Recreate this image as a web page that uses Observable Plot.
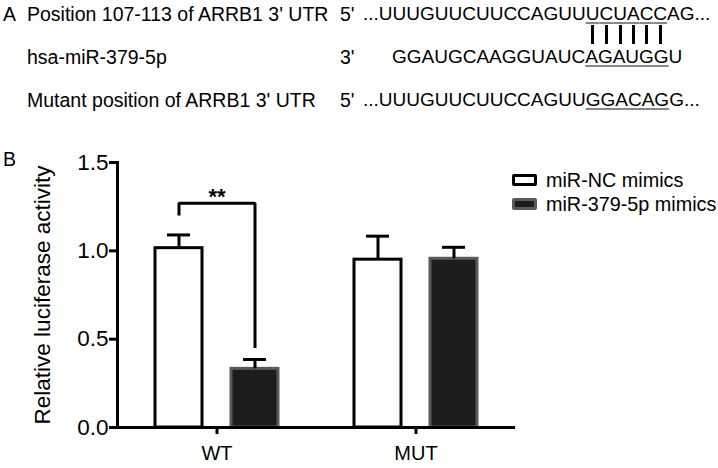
<!DOCTYPE html>
<html><head><meta charset="utf-8">
<script src="https://cdn.jsdelivr.net/npm/d3@7"></script>
<script src="https://cdn.jsdelivr.net/npm/@observablehq/plot@0.6"></script>
<style>
body{margin:0;background:#fff;}
#fig{position:relative;width:718px;height:468px;font-family:"Liberation Sans",Arial,sans-serif;color:#000;overflow:hidden;background:#fff}
.t{position:absolute;white-space:nowrap;font-size:19.5px;line-height:22px}
.seq{font-size:19px}
.u{text-decoration:underline;text-decoration-color:#888;text-decoration-thickness:2px;text-underline-offset:2px}
.p{position:relative}
.p::after{content:"";position:absolute;left:50%;margin-left:-1.5px;top:22px;width:3px;height:19px;background:#000}
#plot{position:absolute;left:0;top:140px}
.leg{position:absolute;left:512px;font-size:19.8px;line-height:20px;white-space:nowrap}
.sw{display:inline-block;width:19px;height:6px;border:3px solid #000;border-radius:2px;vertical-align:middle;margin-right:9px;position:relative;top:-2px}
</style></head>
<body>
<div id="fig"></div>
<script>
// ---- Panel A text ----
const panelLetters = ["A", "B"];
const panelALabels = ["Position 107-113 of ARRB1 3' UTR", "hsa-miR-379-5p", "Mutant position of ARRB1 3' UTR"];
const strandEnds = ["5'", "3'", "5'"];
const seqBefore = ["...UUUGUUCUUCCAGUU", "GGAUGCAAGGUAUC", "...UUUGUUCUUCCAGUU"];
const seqSite = ["UCUACC", "AGAUGG", "GGACAG"];
const seqAfter = ["AG...", "U", "G..."];

// ---- Panel B data ----
const groups = ["WT", "MUT"];
const series = ["miR-NC mimics", "miR-379-5p mimics"];
const ncValues = [1.015, 0.95];
const ncErrors = [0.075, 0.133];
const mimicValues = [0.332, 0.955];
const mimicErrors = [0.053, 0.065];
const yTicks = [0, 0.5, 1.0, 1.5];
const yLabel = "Relative luciferase activity";
const bracketLevels = [1.2, 1.27, 1.27, 0.45];
const significance = "**";

const fig = document.getElementById("fig");
function addDiv(cls, left, top, html) {
  const d = document.createElement("div");
  d.className = cls;
  d.style.left = left + "px";
  d.style.top = top + "px";
  d.innerHTML = html;
  fig.appendChild(d);
  return d;
}
const rowTops = [3, 46, 89];
addDiv("t", 3, rowTops[0], panelLetters[0]);
addDiv("t", 3, 148, panelLetters[1]);
panelALabels.forEach((lab, i) => {
  addDiv("t", 27, rowTops[i], lab);
  addDiv("t", 340, rowTops[i], strandEnds[i]);
  const site = i === 0
    ? seqSite[i].split("").map(c => `<span class="p">${c}</span>`).join("")
    : seqSite[i];
  addDiv("t seq", i === 1 ? 392 : 363, rowTops[i],
    `${seqBefore[i]}<span class="u">${site}</span>${seqAfter[i]}`);
});

// ---- Plot ----
const data = groups.flatMap((g, i) => [
  {group: g, series: series[0], value: ncValues[i], err: ncErrors[i]},
  {group: g, series: series[1], value: mimicValues[i], err: mimicErrors[i]}
]);
const bracket = bracketLevels.map((v, i) => ({group: groups[0], series: i < 2 ? series[0] : series[1], y: v}));
const sig = [{group: groups[0], text: significance}];

const chart = Plot.plot({
  width: 718, height: 328,
  marginTop: 22, marginBottom: 41, marginLeft: 117, marginRight: 203,
  style: {fontFamily: '"Liberation Sans", Arial, sans-serif', fontSize: "20px", color: "#000", background: "transparent", overflow: "visible"},
  fx: {domain: groups, padding: 0, label: null},
  x: {domain: series, paddingInner: 0.382, paddingOuter: 0.494, axis: null},
  y: {domain: [0, 1.5]},
  marks: [
    Plot.axisY({ticks: yTicks, tickFormat: d3.format(".1f"), tickSize: 8, tickPadding: 1, strokeWidth: 3,
      fontSize: 22.5, label: yLabel, labelAnchor: "center", labelArrow: "none", labelOffset: 83}),
    Plot.axisFx({anchor: "bottom", tickSize: 7, strokeWidth: 3, tickPadding: 11, fontSize: 20, label: null}),
    Plot.frame({anchor: "left", strokeWidth: 3, facetAnchor: "left"}),
    Plot.barY(data, {filter: d => d.series === series[0], fx: "group", x: "series", y: "value", fill: "#fff", stroke: "#000", strokeWidth: 3}),
    Plot.barY(data, {filter: d => d.series === series[1], fx: "group", x: "series", y: "value", fill: "#1c1c1c", stroke: "#5a5a5a", strokeWidth: 3}),
    Plot.ruleX(data, {fx: "group", x: "series", y1: "value", y2: d => d.value + d.err, stroke: "#000", strokeWidth: 3}),
    Plot.tickY(data, {fx: "group", x: "series", y: d => d.value + d.err, stroke: "#000", strokeWidth: 3, insetLeft: 12, insetRight: 12}),
    Plot.ruleY([0], {stroke: "#000", strokeWidth: 3}),
    Plot.line(bracket, {fx: "group", x: "series", y: "y", stroke: "#000", strokeWidth: 3, strokeLinejoin: "miter", strokeLinecap: "butt"}),
    Plot.text(sig, {fx: "group", y: 1.305, text: "text", fontSize: 22, fontWeight: "bold"})
  ]
});
chart.id = "plot";
fig.appendChild(chart);

// legend
addDiv("leg", 512, 170, `<span class="sw" style="background:#fff;border-color:#000"></span>${series[0]}`);
addDiv("leg", 512, 194, `<span class="sw" style="background:#1c1c1c;border-color:#5a5a5a"></span>${series[1]}`);
</script>
</body></html>
